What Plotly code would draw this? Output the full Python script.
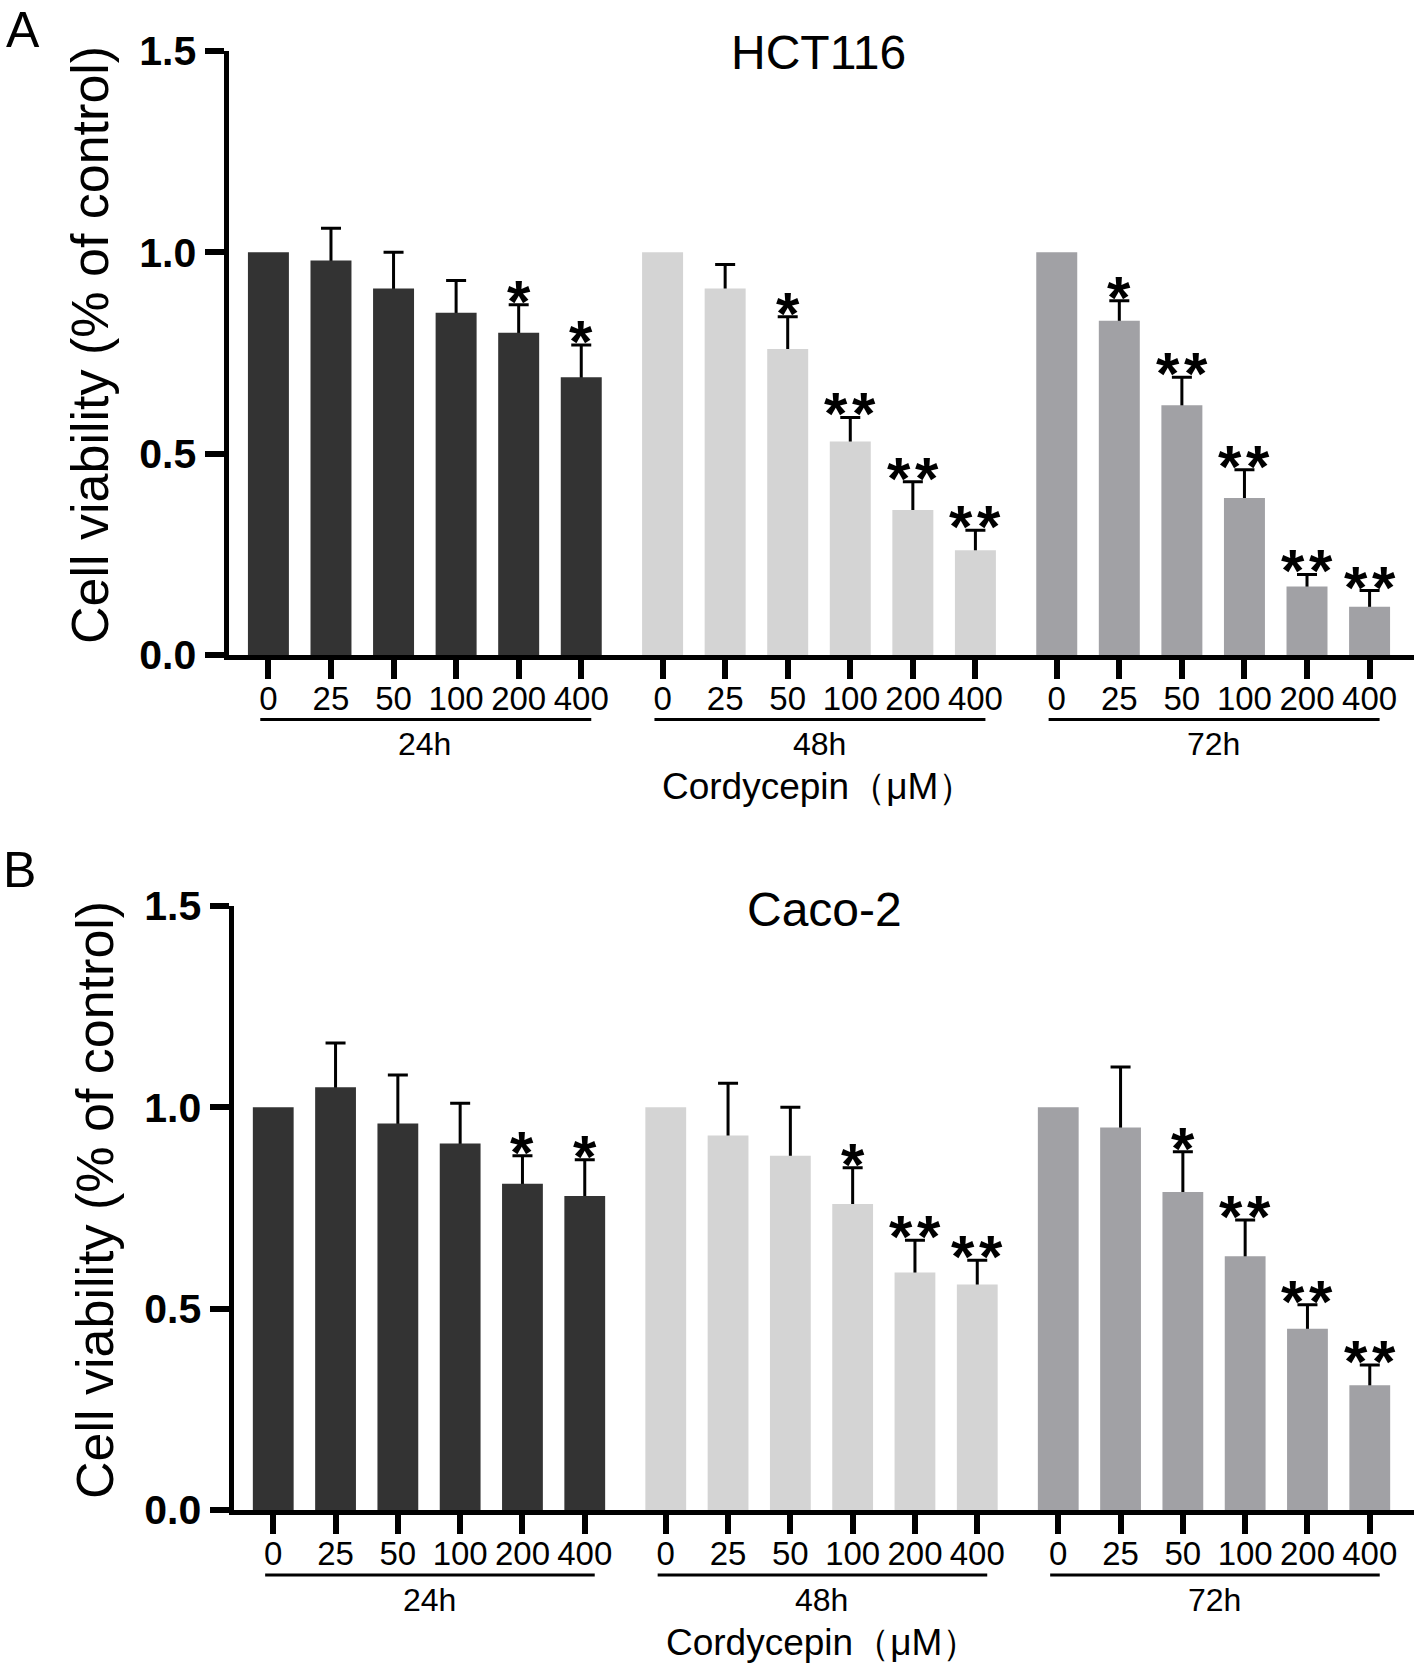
import plotly.graph_objects as go

W, H = 1416, 1665

# ---------------- data ----------------
concentrations = ["0", "25", "50", "100", "200", "400"]
timepoints = ["24h", "48h", "72h"]
y_ticks = [0.0, 0.5, 1.0, 1.5]
y_ticklabels = ["0.0", "0.5", "1.0", "1.5"]

hct116_24h = [1.00, 0.98, 0.91, 0.85, 0.80, 0.69]
hct116_24h_sd = [0, 0.08, 0.09, 0.08, 0.07, 0.08]
hct116_24h_sig = ["", "", "", "", "*", "*"]
hct116_48h = [1.00, 0.91, 0.76, 0.53, 0.36, 0.26]
hct116_48h_sd = [0, 0.06, 0.08, 0.06, 0.07, 0.05]
hct116_48h_sig = ["", "", "*", "**", "**", "**"]
hct116_72h = [1.00, 0.83, 0.62, 0.39, 0.17, 0.12]
hct116_72h_sd = [0, 0.05, 0.07, 0.07, 0.03, 0.04]
hct116_72h_sig = ["", "*", "**", "**", "**", "**"]

caco2_24h = [1.00, 1.05, 0.96, 0.91, 0.81, 0.78]
caco2_24h_sd = [0, 0.11, 0.12, 0.10, 0.07, 0.09]
caco2_24h_sig = ["", "", "", "", "*", "*"]
caco2_48h = [1.00, 0.93, 0.88, 0.76, 0.59, 0.56]
caco2_48h_sd = [0, 0.13, 0.12, 0.09, 0.08, 0.06]
caco2_48h_sig = ["", "", "", "*", "**", "**"]
caco2_72h = [1.00, 0.95, 0.79, 0.63, 0.45, 0.31]
caco2_72h_sd = [0, 0.15, 0.10, 0.09, 0.06, 0.05]
caco2_72h_sig = ["", "", "*", "**", "**", "**"]

colors = {"24h": "#333333", "48h": "#d4d4d4", "72h": "#a1a1a5"}

# ---------------- styling ----------------
FONT = "Liberation Sans, Arial, sans-serif"
NARROW = "Liberation Sans Narrow, Arial Narrow, Liberation Sans, Arial, sans-serif"
GROUP_STEP = 6.3
BAR_W = 0.655
XRANGE = [-0.638, 18.31]
STAR_SIZE = 60
STAR_YSHIFT = -32
STAR_SEP = 14


def px_x(p):
    return p / W


def px_y(p):
    return 1 - p / H


panels = [
    dict(name="HCT116", letter="A", xa="x", ya="y", x_l=228.5, y_t=51, y_b=655,
         title_xy=(818, 53), letter_xy=(23, None), ytitle_xy=(90, 345),
         line_y=719.5, glabel_y=744, xtitle_xy=(818, 786),
         data={"24h": (hct116_24h, hct116_24h_sd, hct116_24h_sig),
               "48h": (hct116_48h, hct116_48h_sd, hct116_48h_sig),
               "72h": (hct116_72h, hct116_72h_sd, hct116_72h_sig)}),
    dict(name="Caco-2", letter="B", xa="x2", ya="y2", x_l=233.5, y_t=906, y_b=1510,
         title_xy=(824, 909), letter_xy=(19, 870), ytitle_xy=(95, 1200),
         line_y=1575, glabel_y=1600, xtitle_xy=(822, None),
         data={"24h": (caco2_24h, caco2_24h_sd, caco2_24h_sig),
               "48h": (caco2_48h, caco2_48h_sd, caco2_48h_sig),
               "72h": (caco2_72h, caco2_72h_sd, caco2_72h_sig)}),
]

fig = go.Figure()
annotations = []
shapes = []

for pi, p in enumerate(panels):
    tickvals, ticktext = [], []
    for gi, t in enumerate(timepoints):
        means, sds, sigs = p["data"][t]
        xs = [gi * GROUP_STEP + i for i in range(len(concentrations))]
        tickvals += xs
        ticktext += concentrations
        ex = [x for x, s in zip(xs, sds) if s > 0]
        ey = [m for m, s in zip(means, sds) if s > 0]
        es = [s for s in sds if s > 0]
        # invisible bars carrying the error bars, drawn underneath the visible bars
        fig.add_trace(go.Bar(x=ex, y=ey, width=BAR_W, xaxis=p["xa"], yaxis=p["ya"],
                             marker=dict(color="rgba(0,0,0,0)", line=dict(width=0)),
                             error_y=dict(type="data", array=es, symmetric=True,
                                          color="black", thickness=3, width=10),
                             showlegend=False, hoverinfo="skip"))
        fig.add_trace(go.Bar(x=xs, y=means, width=BAR_W, xaxis=p["xa"], yaxis=p["ya"],
                             marker=dict(color=colors[t], line=dict(width=0)),
                             showlegend=False, name=f"{p['name']} {t}"))
        # significance stars
        for x, m, s, sig in zip(xs, means, sds, sigs):
            if not sig:
                continue
            offs = [0] if len(sig) == 1 else [-STAR_SEP, STAR_SEP]
            for o in offs:
                annotations.append(dict(x=x, y=m + s, xref=p["xa"], yref=p["ya"], text="*",
                                        showarrow=False, xanchor="center", yanchor="bottom",
                                        xshift=o, yshift=STAR_YSHIFT,
                                        font=dict(family=FONT, size=STAR_SIZE, color="black",
                                                  weight="bold")))
        # group underline and label
        shapes.append(dict(type="line", xref=p["xa"], yref="paper",
                           x0=xs[0] - 0.13, x1=xs[-1] + 0.16,
                           y0=px_y(p["line_y"]), y1=px_y(p["line_y"]),
                           line=dict(color="black", width=3)))
        annotations.append(dict(x=(xs[0] + xs[-1]) / 2, y=px_y(p["glabel_y"]), xref=p["xa"],
                                yref="paper", text=t, showarrow=False, xanchor="center",
                                yanchor="middle", font=dict(family=NARROW, size=32, color="black")))

    axis_common = dict(showline=True, linewidth=5, linecolor="black", ticks="outside",
                       ticklen=19, tickwidth=6, tickcolor="black", showgrid=False,
                       zeroline=False, fixedrange=True, mirror=False, automargin=False)
    xkey = "xaxis" if pi == 0 else "xaxis2"
    ykey = "yaxis" if pi == 0 else "yaxis2"
    fig.update_layout(**{
        xkey: dict(domain=[px_x(p["x_l"]), px_x(1414)], range=XRANGE, anchor=p["ya"],
                   tickmode="array", tickvals=tickvals, ticktext=ticktext,
                   ticklabelstandoff=-9,
                   tickfont=dict(family=NARROW, size=33, color="black"), **axis_common),
        ykey: dict(domain=[px_y(p["y_b"]), px_y(p["y_t"])], range=[0, 1.5], anchor=p["xa"],
                   tickmode="array", tickvals=y_ticks, ticktext=y_ticklabels,
                   tickfont=dict(family=FONT, size=41, color="black", weight="bold"),
                   **axis_common),
    })

    if p["letter_xy"][1] is None:
        letter_pos = dict(y=1.0, yanchor="top")
    else:
        letter_pos = dict(y=px_y(p["letter_xy"][1]), yanchor="middle")
    if p["xtitle_xy"][1] is None:
        xtitle_pos = dict(y=0.0, yanchor="bottom")
    else:
        xtitle_pos = dict(y=px_y(p["xtitle_xy"][1]), yanchor="middle")

    annotations += [
        dict(x=px_x(p["title_xy"][0]), y=px_y(p["title_xy"][1]), xref="paper", yref="paper",
             text=p["name"], showarrow=False, xanchor="center", yanchor="middle",
             font=dict(family=FONT, size=48, color="black")),
        dict(x=px_x(p["letter_xy"][0]), xref="paper", yref="paper",
             text=p["letter"], showarrow=False, xanchor="center", **letter_pos,
             font=dict(family=FONT, size=50, color="black")),
        dict(x=px_x(p["ytitle_xy"][0]), y=px_y(p["ytitle_xy"][1]), xref="paper", yref="paper",
             text="Cell viability (% of control)", showarrow=False, textangle=-90,
             xanchor="center", yanchor="middle",
             font=dict(family=FONT, size=52, color="black")),
        dict(x=px_x(p["xtitle_xy"][0]), xref="paper", yref="paper",
             text="Cordycepin（μM）", showarrow=False, xanchor="center", **xtitle_pos,
             font=dict(family=NARROW, size=37, color="black")),
    ]

fig.update_layout(width=W, height=H, margin=dict(l=0, r=0, t=0, b=0, autoexpand=False),
                  paper_bgcolor="white", plot_bgcolor="white", barmode="overlay",
                  annotations=annotations, shapes=shapes, showlegend=False)

fig.write_html("out.html", config={"displayModeBar": False},
               post_script="document.body.style.margin='0';document.documentElement.style.margin='0';")
